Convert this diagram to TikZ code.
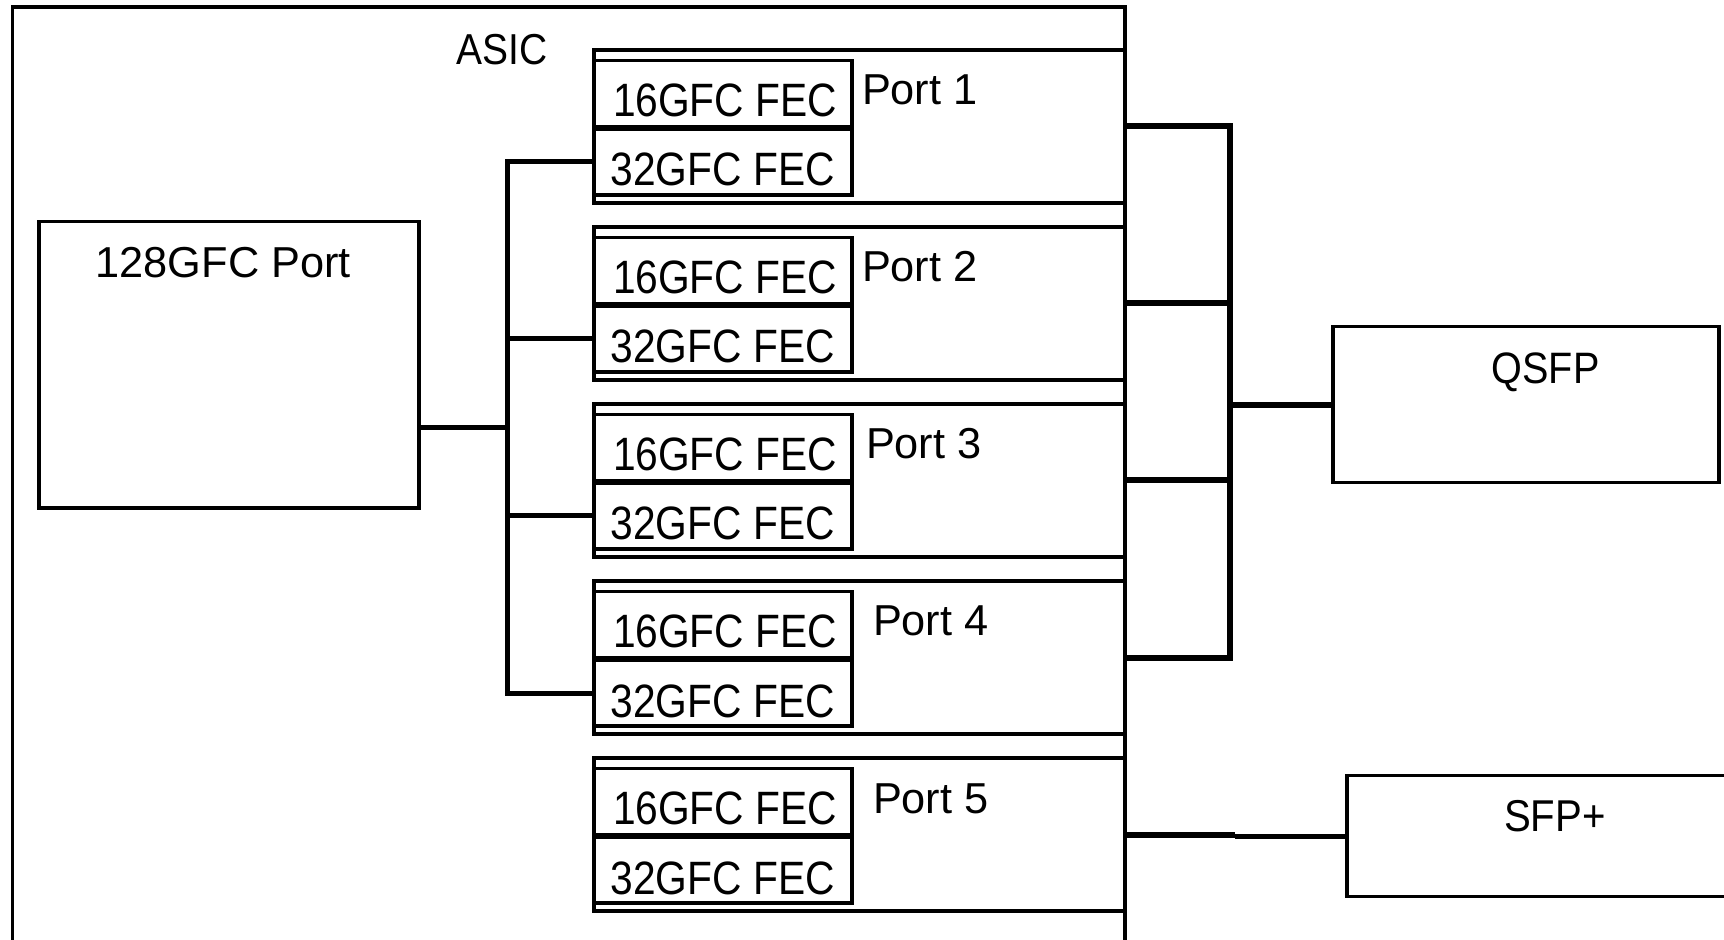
\documentclass[tikz,border=0pt]{standalone}
\usepackage{fontspec}
\setmainfont{Liberation Sans}
\newfontfamily\fwide{Liberation Sans}
\newfontfamily\fnarrow[FakeStretch=0.87]{Liberation Sans}
\newfontfamily\fmid[FakeStretch=0.9]{Liberation Sans}
\usetikzlibrary{fit,calc}
\begin{document}
\begin{tikzpicture}[x=0.5pt,y=-0.5pt,
  box/.style={draw=black, line width=1.8pt, inner sep=0pt, outer sep=0pt, rectangle},
  lbus/.style={line width=2.5pt},
  rbus/.style={line width=3pt},
  sbus/.style={line width=2.3pt},
  lbl/.style={inner sep=0pt, outer sep=0pt, anchor=base west},
  fec/.style={lbl, font=\fnarrow\fontsize{23.4pt}{26pt}\selectfont},
  portlbl/.style={lbl, font=\fwide\fontsize{21.65pt}{24pt}\selectfont},
  midlbl/.style={lbl, font=\fmid\fontsize{21.9pt}{24pt}\selectfont}
]
\useasboundingbox (0,0) rectangle (1724,940);
\fill[white] (0,0) rectangle (1724,940);

% ASIC outline (bottom cut off by page)
\draw[line width=1.8pt] (12.3,980) -- (12.3,7.3) -- (1125,7.3) -- (1125,980);
\node[midlbl, font=\fmid\fontsize{21.65pt}{24pt}\selectfont] (asic) at (456.7,64.3) {ASIC};

% 128GFC port
\node[box, fit={(39,221.7) (419,508)}] (b128) {};
\node[portlbl] (t128) at (95.7,278) {128GFC Port};

% Ports
\foreach \i/\t/\lx in {1/50/862, 2/227/862, 3/404/866, 4/581/873, 5/758/873} {
  \node[box, fit={(594,\t) (1125,\t+153)}] (p\i) {};
  \node[box, fit={(594,\t+10.5) (852,\t+77)}] (f16-\i) {};
  \node[box, fit={(594,\t+79) (852,\t+145)}] (f32-\i) {};
  \node[fec] (t16-\i) at (613,\t+66.7) {16GFC FEC};
  \node[fec] (t32-\i) at (610.7,\t+136) {32GFC FEC};
  \node[portlbl] (pl\i) at (\lx,\t+55) {Port \i};
}

% QSFP and SFP+
\node[box, fit={(1333,326.7) (1719,482.7)}] (qsfp) {};
\node[midlbl, font=\fmid\fontsize{22pt}{24pt}\selectfont] (tq) at (1491.7,383.3) {QSFP};
\node[box, line width=1.7pt, fit={(1347,775.7) (1760,896.7)}] (sfp) {};
\node[midlbl, font=\fmid\fontsize{22.3pt}{24pt}\selectfont] (ts) at (1504,831) {SFP+};

% left bus
\coordinate (lbx) at (507,0);
\draw[lbus] (f32-1.west) -- (f32-1.west -| lbx) -- (f32-4.west -| lbx) -- (f32-4.west);
\draw[lbus] (f32-2.west) -- (f32-2.west -| lbx);
\draw[lbus] (f32-3.west) -- (f32-3.west -| lbx);
\coordinate (lbm) at ($(f32-1.west -| lbx)!0.5!(f32-4.west -| lbx)$);
\draw[lbus] (b128.east |- lbm) -- (lbm);

% right bus
\coordinate (rbx) at (1229.5,0);
\draw[rbus] (p1.east) -- (p1.east -| rbx) -- (p4.east -| rbx) -- (p4.east);
\draw[rbus] (p2.east) -- (p2.east -| rbx);
\draw[rbus] (p3.east) -- (p3.east -| rbx);
\draw[rbus] (qsfp.west) -- (qsfp.west -| rbx);

% port 5 to SFP+
\coordinate (k5) at ($(p5.east)+(110,0)$);
\draw[rbus] (p5.east) -- (k5);
\draw[sbus] (k5 |- sfp.west) -- (sfp.west);
\end{tikzpicture}
\end{document}
